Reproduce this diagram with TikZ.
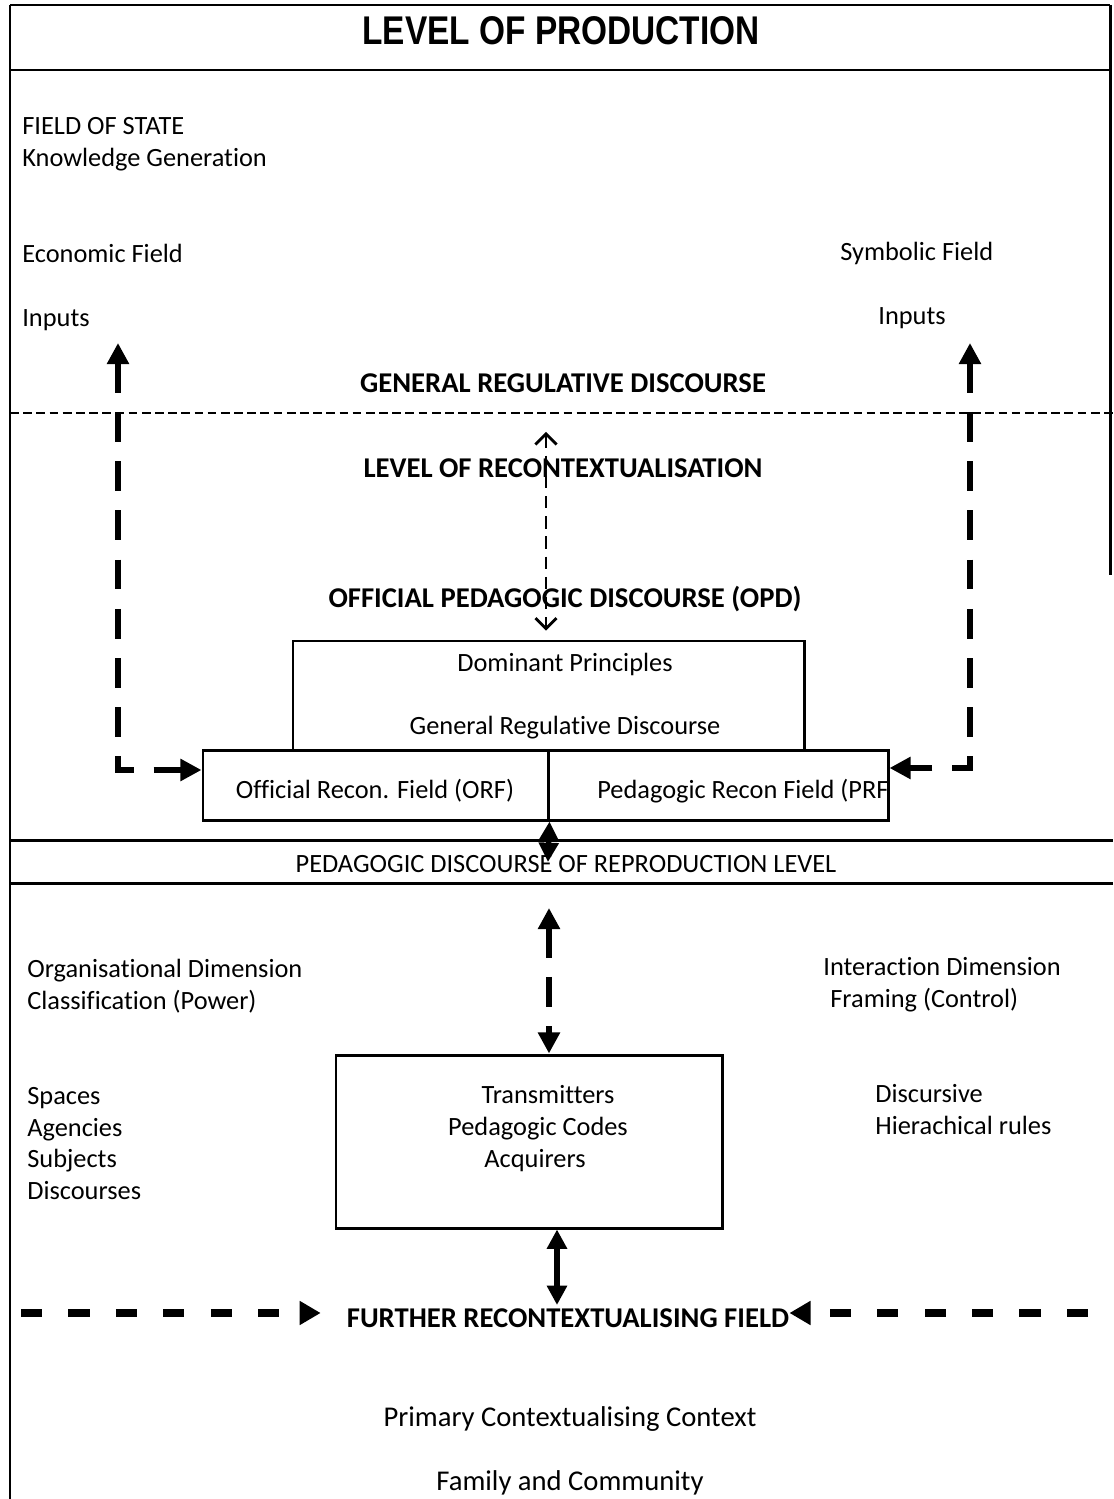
\documentclass[tikz,border=0pt]{standalone}
\usepackage{fontspec}
\setmainfont{Carlito}[Ligatures=NoCommon]
\newfontfamily\headfont{Liberation Sans}
\usetikzlibrary{arrows.meta}

\begin{document}
\begin{tikzpicture}[scale=0.2]
\tikzstyle{every node}+=[inner sep=0pt, font=\fontsize{15}{18}\selectfont]
\tikzstyle{lbl}=[anchor=base west]
\tikzstyle{ctr}=[anchor=base]
\tikzstyle{big}=[anchor=base, font=\fontsize{16.3}{19}\selectfont]
\tikzstyle{hd}=[anchor=base, font=\fontsize{16.3}{19}\selectfont\bfseries]
\tikzstyle{frame}=[black, line width=1.7pt]
\tikzstyle{box}=[draw, black, line width=1.7pt, rectangle]
\tikzstyle{thindash}=[black, line width=1.6pt, dash pattern=on 7pt off 4.5pt, {Straight Barb[length=6pt,width=12pt,line width=1.6pt]}-{Straight Barb[length=6pt,width=12pt,line width=1.6pt]}]
\tikzstyle{fatdash}=[black, line width=3.5pt, dash pattern=on 17pt off 11pt, {Triangle[length=12pt,width=12pt]}-{Triangle[length=12pt,width=12pt]}]
\tikzstyle{flatdash}=[black, line width=4pt, dash pattern=on 12pt off 15pt, -{Triangle[length=12pt,width=13pt]}]
\tikzstyle{solidarrow}=[black, line width=3pt, {Triangle[length=11pt,width=11pt]}-{Triangle[length=11pt,width=11pt]}]
\useasboundingbox (0,0) rectangle (111.3,-149.9);
% frame and level lines
\draw [frame] (1.0,-0.5) -- (111.0,-0.5);
\draw [frame] (1.0,-7.0) -- (111.0,-7.0);
\draw [frame] (1.0,-0.5) -- (1.0,-149.9);
\draw [frame] (111.0,-0.5) -- (111.0,-57.5);
\draw [black, line width=1.2pt, dash pattern=on 5pt off 2.5pt] (1.0,-41.3) -- (111.3,-41.3);
\draw [frame] (1.0,-84.0) -- (111.3,-84.0);
\draw [frame] (1.0,-88.3) -- (111.3,-88.3);
% level of production
\node (title) at (56.1,-4.5) [ctr] {\headfont\bfseries\fontsize{19}{22}\selectfont\scalebox{1}[1.2]{LEVEL OF PRODUCTION}};
\node (fos) at (2.2,-13.5) [lbl] {FIELD OF STATE};
\node (kgen) at (2.2,-16.7) [lbl] {Knowledge Generation};
\node (econ) at (2.2,-26.3) [lbl] {Economic Field};
\node (inl) at (2.2,-32.7) [lbl] {Inputs};
\node (symb) at (84.0,-26.1) [lbl] {Symbolic Field};
\node (inr) at (87.8,-32.5) [lbl] {Inputs};
\node (grd) at (56.3,-39.2) [hd] {GENERAL REGULATIVE DISCOURSE};
% level of recontextualisation
\node (lrc) at (56.3,-47.7) [hd] {LEVEL OF RECONTEXTUALISATION};
\node (opd) at (56.5,-60.7) [hd] {OFFICIAL PEDAGOGIC DISCOURSE (OPD)};
\node (dom) at (54.85,-69.55) [box, minimum width=10.22cm, minimum height=2.18cm] {};
\node (domp) at (56.5,-67.1) [ctr] {Dominant Principles};
\node (grdb) at (56.5,-73.4) [ctr] {General Regulative Discourse};
\node (orf) at (37.55,-78.5) [box, minimum width=6.9cm, minimum height=1.4cm] {};
\node (prf) at (71.8,-78.5) [box, minimum width=6.8cm, minimum height=1.4cm] {};
\node (orft) at (37.5,-79.8) [ctr] {Official Recon. Field (ORF)};
\node (prft) at (59.7,-79.8) [lbl] {Pedagogic Recon Field (PRF};
\coordinate (opdup) at (54.6,-43.2);
\coordinate (lin) at (11.8,-34.3);
\coordinate (lcorner) at (11.8,-77.0);
\coordinate (rin) at (97.0,-34.3);
\coordinate (rcorner) at (97.0,-76.8);
\draw [thindash, shorten >=5pt] (opdup) -- (opdup |- dom.north);
\draw [fatdash] (lin) -- (lcorner) -- (orf.west |- lcorner);
\draw [fatdash] (rin) -- (rcorner) -- (prf.east |- rcorner);
% reproduction level
\node (pdr) at (56.6,-87.2) [ctr] {PEDAGOGIC DISCOURSE OF REPRODUCTION LEVEL};
\coordinate (pdrtip) at (54.8,-86.2);
\draw [solidarrow] (orf.south east) -- (pdrtip);
\node (org) at (2.7,-97.7) [lbl] {Organisational Dimension};
\node (cls) at (2.7,-100.9) [lbl] {Classification (Power)};
\node (intd) at (82.3,-97.5) [lbl] {Interaction Dimension};
\node (frm) at (83.0,-100.7) [lbl] {Framing (Control)};
\node (spc) at (2.7,-110.4) [lbl] {Spaces};
\node (agc) at (2.7,-113.6) [lbl] {Agencies};
\node (sbj) at (2.7,-116.7) [lbl] {Subjects};
\node (dsc) at (2.7,-119.9) [lbl] {Discourses};
\node (tpc) at (52.9,-114.15) [box, minimum width=7.72cm, minimum height=3.46cm] {};
\node (trn) at (54.8,-110.3) [ctr] {Transmitters};
\node (pcod) at (53.8,-113.5) [ctr] {Pedagogic Codes};
\node (acq) at (53.5,-116.7) [ctr] {Acquirers};
\node (dsv) at (87.5,-110.2) [lbl] {Discursive};
\node (hrl) at (87.5,-113.4) [lbl] {Hierachical rules};
\coordinate (pdrlow) at (54.9,-90.8);
\draw [fatdash] (pdrlow) -- (pdrlow |- tpc.north);
% further recontextualising field
\node (frf) at (56.8,-132.7) [hd] {FURTHER RECONTEXTUALISING FIELD};
\coordinate (frfx) at (55.7,-130.5);
\draw [solidarrow] (frfx |- tpc.south) -- (frfx);
\coordinate (lfar) at (2.1,-131.3);
\coordinate (rfar) at (108.8,-131.3);
\draw [flatdash, shorten >=14.7pt] (lfar) -- (frf.west |- lfar);
\draw [flatdash] (rfar) -- (frf.east |- rfar);
\node (pcc) at (57.0,-142.6) [big] {Primary Contextualising Context};
\node (fam) at (57.0,-149.0) [big] {Family and Community};
\end{tikzpicture}
\end{document}
